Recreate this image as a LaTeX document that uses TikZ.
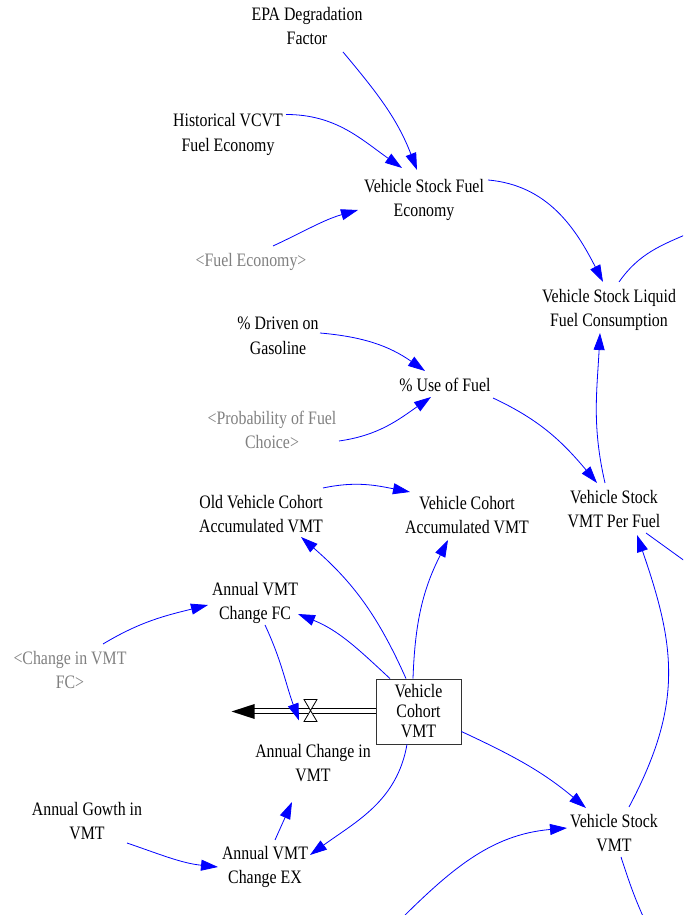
\documentclass[tikz,border=0pt]{standalone}
\usepackage{fontspec}
\setmainfont{Liberation Serif}[FakeStretch=0.835]
\usetikzlibrary{arrows.meta}
\newcommand{\vfont}{\fontsize{19}{24.5}\selectfont}
\tikzset{
  >={Triangle[length=17pt,width=11pt]},
  var/.style={align=center, inner sep=1pt, font=\vfont},
  sh/.style={var, text=black!50},
  lk/.style={draw=blue, line width=0.8pt, ->},
  lv/.style={draw=blue, line width=0.8pt},
  stk/.style={draw=black!80, line width=0.8pt, minimum width=85pt, minimum height=65pt,
    align=center, inner sep=0pt, font=\fontsize{19}{20}\selectfont},
  pipe/.style={draw=black, double, double distance=4pt, line width=1pt}
}

\begin{document}
\begin{tikzpicture}[x=1pt, y=1pt]
  \useasboundingbox (0,0) rectangle (683,915);
  \clip (0,0) rectangle (683,915);
  % variables
  \node[var] (epa) at (307,889) {EPA Degradation\\Factor};
  \node[var] (hist) at (228,780.5) {Historical VCVT\\Fuel Economy};
  \node[var] (vsfe) at (424,715) {Vehicle Stock Fuel\\Economy};
  \node[sh] (fe) at (251,653) {<Fuel Economy>};
  \node[var] (vslfc) at (609,605) {Vehicle Stock Liquid\\Fuel Consumption};
  \node[var] (drv) at (278,579) {\% Driven on\\Gasoline};
  \node[var] (use) at (445,530) {\% Use of Fuel};
  \node[sh] (prob) at (272,485) {<Probability of Fuel\\Choice>};
  \node[var] (vsvpf) at (614,406) {Vehicle Stock\\VMT Per Fuel};
  \node[var] (oldacc) at (261,401) {Old Vehicle Cohort\\Accumulated VMT};
  \node[var] (acc) at (467,400) {Vehicle Cohort\\Accumulated VMT};
  \node[var] (fc) at (255,312) {Annual VMT\\Change FC};
  \node[sh] (chfc) at (70,245) {<Change in VMT\\FC>};
  \node[var] (chg) at (313,152) {Annual Change in\\VMT};
  \node[var] (grw) at (87,94) {Annual Gowth in\\VMT};
  \node[var] (ex) at (265,48) {Annual VMT\\Change EX};
  \node[var] (vsvmt) at (614,82) {Vehicle Stock\\VMT};
  % stock and outflow
  \node[stk] (stock) at (418.5,203.5) {Vehicle\\Cohort\\VMT};
  \coordinate (sink) at ([xshift=-144pt]stock.west);
  \coordinate (valve) at (310.5,204.5);
  \draw[pipe] (stock.west) -- ([xshift=22pt]sink);
  \fill ([shift={(23,7.5)}]sink) -- (sink) -- ([shift={(23,-7.5)}]sink) -- cycle;
  \filldraw[fill=white, draw=black, line width=0.8pt]
    ([shift={(-6.5,11)}]valve) -- ([shift={(6.5,11)}]valve)
    -- ([shift={(-6.5,-11)}]valve) -- ([shift={(6.5,-11)}]valve) -- cycle;
  % ends off the picture
  \coordinate (offA) at (692,683);
  \coordinate (offB) at (700,343);
  \coordinate (offC) at (395,-10);
  \coordinate (offD) at (647,-10);
  % links
  \draw[lk] ([shift={(36,-26)}]epa.center) to[out=-50,in=111] ([shift={(-7,30)}]vsfe.center);
  \draw[lk] ([shift={(58,20)}]hist.center) to[out=0,in=145] ([shift={(-22,32)}]vsfe.center);
  \draw[lk] ([shift={(22,16)}]fe.center) to[out=25,in=-164] ([shift={(-66,-10)}]vsfe.center);
  \draw[lk] ([shift={(64,20)}]vsfe.center) to[out=-5,in=117] ([shift={(-6,28)}]vslfc.center);
  \draw[lv] ([shift={(10,28)}]vslfc.center) to[out=55,in=-157] (offA);
  \draw[lk] ([shift={(-9,26)}]vsvpf.center) to[out=103,in=-93] ([shift={(-9,-23)}]vslfc.center);
  \draw[lk] ([shift={(42,3)}]drv.center) to[out=-5,in=145] ([shift={(-20,14)}]use.center);
  \draw[lk] ([shift={(67,-11)}]prob.center) to[out=8,in=-145] ([shift={(-14,-12)}]use.center);
  \draw[lk] ([shift={(48,-13)}]use.center) to[out=-25,in=130] ([shift={(-17,26)}]vsvpf.center);
  \draw[lv] ([shift={(32,-24)}]vsvpf.center) -- (offB);
  \draw[lk] ([shift={(15,26)}]vsvmt.center) to[out=62,in=-71,looseness=1.1] ([shift={(23,-26)}]vsvpf.center);
  \draw[lk] ([shift={(62,26)}]oldacc.center) to[out=12,in=169] ([shift={(-57,23)}]acc.center);
  \draw[lk] ([xshift=-5.5pt]stock.north) to[out=88,in=-117] ([shift={(-19,-25)}]acc.center);
  \draw[lk] ([xshift=-12.5pt]stock.north) to[out=114,in=-41] ([shift={(40,-23)}]oldacc.center);
  \draw[lk] ([xshift=-28.5pt]stock.north) to[out=137,in=-22] ([shift={(43,-11)}]fc.center);
  \draw[lk] ([shift={(33,26)}]chfc.center) to[out=31,in=-166] ([shift={(-47,-2)}]fc.center);
  \draw[lk] ([shift={(10,-22)}]fc.center) to[out=-65,in=110] ([shift={(-11.5,-10)}]valve);
  \draw[lk] ([yshift=-20pt]stock.east) to[out=-25,in=140] ([shift={(-28,25)}]vsvmt.center);
  \draw[lk] ([xshift=-11.5pt]stock.south) to[out=-100,in=36] ([shift={(45,12)}]ex.center);
  \draw[lk] ([shift={(40,-22)}]grw.center) to[out=-19,in=174] ([shift={(-47,0)}]ex.center);
  \draw[lk] ([shift={(10,27)}]ex.center) -- ([shift={(-21,-39)}]chg.center);
  \draw[lk] (offC) to[out=45,in=-175] ([shift={(-47,5)}]vsvmt.center);
  \draw[lv] ([shift={(7,-24)}]vsvmt.center) to[out=-72,in=115] (offD);
\end{tikzpicture}
\end{document}
